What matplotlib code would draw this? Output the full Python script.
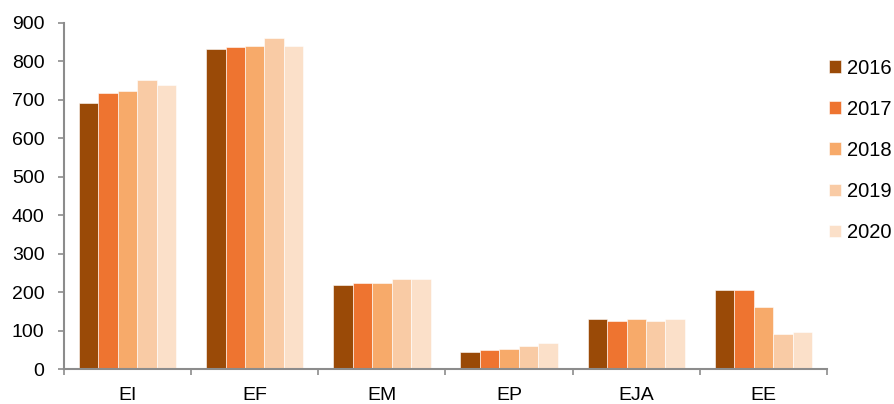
import matplotlib
matplotlib.use("Agg")
import matplotlib.pyplot as plt
import numpy as np

plt.rcParams['font.family'] = ['Liberation Sans', 'DejaVu Sans']

categories = ["EI", "EF", "EM", "EP", "EJA", "EE"]
years = ["2016", "2017", "2018", "2019", "2020"]
v2016 = [690, 831, 218, 44, 129, 204]
v2017 = [717, 836, 223, 49, 124, 204]
v2018 = [723, 840, 223, 53, 129, 162]
v2019 = [751, 860, 233, 59, 124, 92]
v2020 = [737, 840, 233, 68, 129, 96]
series = [v2016, v2017, v2018, v2019, v2020]
colors = ["#9A4A07", "#EE7430", "#F7AA6A", "#F9CBA5", "#FBE0C9"]

fig = plt.figure(figsize=(8.95, 4.04), dpi=100)
ax = fig.add_axes([0.0715, 0.0866, 0.8525, 0.8574])

x = np.arange(len(categories))
w = 0.153
for i, (vals, c, yr) in enumerate(zip(series, colors, years)):
    ax.bar(x + (i - 2) * w, vals, width=w, color=c, label=yr,
           edgecolor="white", linewidth=0.4)

ax.set_xlim(-0.5, len(categories) - 0.5)
ax.set_ylim(0, 900)
ax.set_yticks(range(0, 901, 100))
ax.set_xticks(x)
ax.set_xticklabels(categories)
ax.set_xticks(np.arange(-0.5, len(categories), 1.0), minor=True)
ax.tick_params(axis='x', which='major', length=0, labelsize=14, pad=13)
ax.tick_params(axis='x', which='minor', length=4, color="#8C8C8C", width=1.2, direction='out')
ax.tick_params(axis='y', length=4, color="#8C8C8C", width=1.2, labelsize=14, pad=10)
for s in ["top", "right"]:
    ax.spines[s].set_visible(False)
for s in ["left", "bottom"]:
    ax.spines[s].set_color("#8C8C8C")
    ax.spines[s].set_linewidth(1.5)

leg = fig.legend(loc="upper left", bbox_to_anchor=(0.926, 0.855),
                 bbox_transform=fig.transFigure, frameon=False,
                 fontsize=14.5, handlelength=0.6, handleheight=0.6,
                 labelspacing=1.1, handletextpad=0.3, borderaxespad=0,
                 borderpad=0)

fig.savefig("out.png", dpi=100)
